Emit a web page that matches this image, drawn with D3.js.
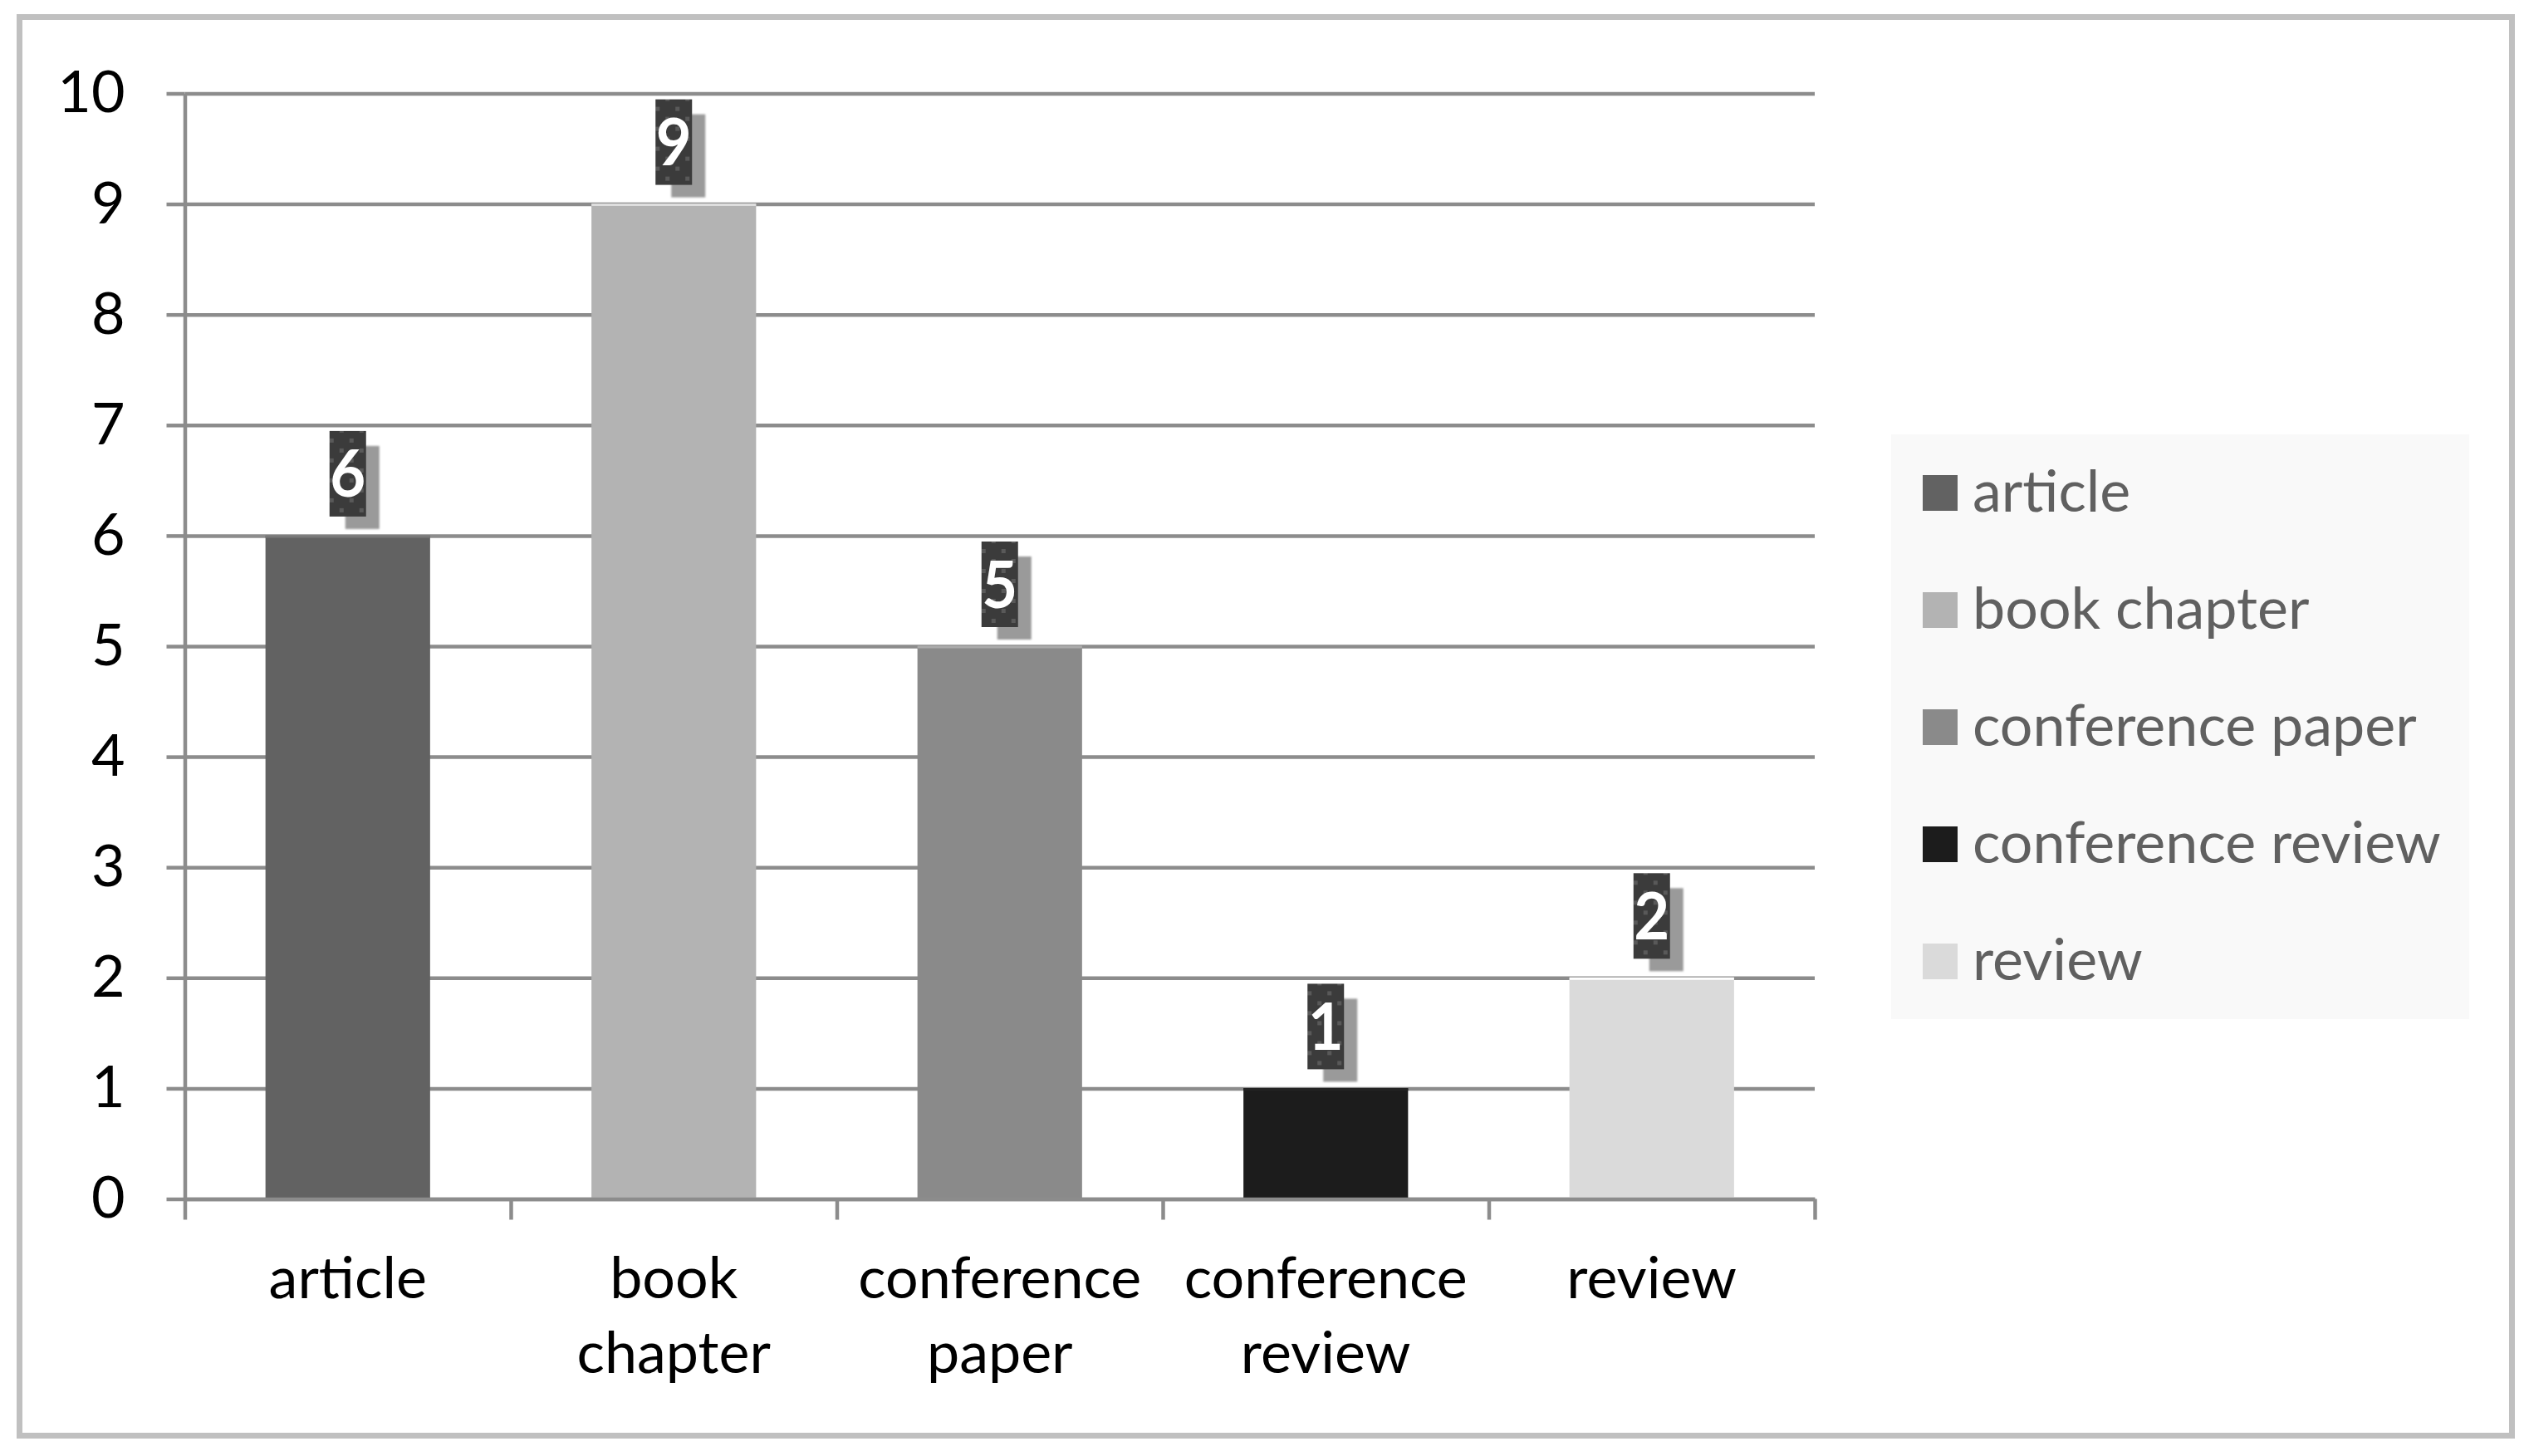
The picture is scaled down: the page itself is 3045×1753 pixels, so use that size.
<!DOCTYPE html>
<html>
<head>
<meta charset="utf-8">
<script src="https://cdn.jsdelivr.net/npm/d3@7"></script>
<style>
  body { margin: 0; background: #fff; }
  svg text { font-family: Lato, "Open Sans", sans-serif; }
</style>
</head>
<body>
<svg id="chart" width="3045" height="1753"></svg>
<script>
// chart data
const categories = ["article", "book chapter", "conference paper", "conference review", "review"];
const values = [6, 9, 5, 1, 2];
const barColors = ["#626262", "#b3b3b3", "#8a8a8a", "#1c1c1c", "#dadada"];
const xTickLabels = [["article"], ["book", "chapter"], ["conference", "paper"], ["conference", "review"], ["review"]];
const yTicks = [0, 1, 2, 3, 4, 5, 6, 7, 8, 9, 10];

const svg = d3.select("#chart");
const W = 3045, H = 1753;
const margin = {top: 112.5, right: 860, bottom: 309.5, left: 222.5};
const width = W - margin.left - margin.right;
const height = H - margin.top - margin.bottom;
const gridColor = "#8c8c8c";
const fontSize = 70;

// outer frame
svg.append("rect")
    .attr("x", 23.5).attr("y", 20.5)
    .attr("width", 3001).attr("height", 1708)
    .attr("fill", "#fff").attr("stroke", "#c0c0c0").attr("stroke-width", 7);

// dotted fill for the value labels
const defs = svg.append("defs");
const pat = defs.append("pattern").attr("id", "dots")
    .attr("patternUnits", "userSpaceOnUse").attr("width", 24).attr("height", 24);
pat.append("rect").attr("width", 24).attr("height", 24).attr("fill", "#3b3b3b");
pat.append("rect").attr("x", 2).attr("y", 2).attr("width", 5).attr("height", 5).attr("fill", "#595959");
pat.append("rect").attr("x", 14).attr("y", 14).attr("width", 5).attr("height", 5).attr("fill", "#595959");
defs.append("filter").attr("id", "soft")
    .append("feGaussianBlur").attr("stdDeviation", 0.8);

const g = svg.append("g").attr("transform", `translate(${margin.left},${margin.top})`);

// scales
const x = d3.scaleBand().domain(categories).range([0, width])
    .paddingInner(0.495).paddingOuter(0.2475);
const y = d3.scaleLinear().domain([0, 10]).range([height, 0]);
const xEdge = d3.scaleLinear().domain([0, categories.length]).range([0, width]);

// gridlines
const grid = g.append("g")
    .call(d3.axisLeft(y).tickValues(yTicks).tickSize(-width).tickFormat(""));
grid.select(".domain").remove();
grid.selectAll("line").attr("stroke", gridColor).attr("stroke-width", 4.5);

// y axis
const yAxis = g.append("g")
    .call(d3.axisLeft(y).tickValues(yTicks).tickSize(22).tickSizeOuter(0).tickPadding(50));
yAxis.select(".domain").attr("stroke", gridColor).attr("stroke-width", 4.5);
yAxis.selectAll("line").attr("stroke", gridColor).attr("stroke-width", 4.5);
yAxis.selectAll("text").attr("font-size", fontSize).attr("fill", "#000")
    .attr("font-family", "Lato, 'Open Sans', sans-serif");

// bars
const bars = g.append("g").selectAll("g").data(categories).join("g");
bars.append("rect")
    .attr("x", d => x(d))
    .attr("y", (d, i) => y(values[i]))
    .attr("width", x.bandwidth())
    .attr("height", (d, i) => height - y(values[i]))
    .attr("fill", (d, i) => barColors[i]);
bars.append("line")
    .attr("x1", d => x(d)).attr("x2", d => x(d) + x.bandwidth())
    .attr("y1", (d, i) => y(values[i]) + 1).attr("y2", (d, i) => y(values[i]) + 1)
    .attr("stroke", (d, i) => d3.color(barColors[i]).brighter(0.6))
    .attr("stroke-width", 3);

// x axis with ticks at category edges
const xAxis = g.append("g").attr("transform", `translate(0,${height})`)
    .call(d3.axisBottom(xEdge).tickValues(d3.range(categories.length + 1))
        .tickSize(25).tickSizeOuter(0).tickFormat(""));
xAxis.select(".domain").attr("stroke", gridColor).attr("stroke-width", 4.5);
xAxis.selectAll("line").attr("stroke", gridColor).attr("stroke-width", 4.5);

// category labels
g.append("g").selectAll("text").data(categories).join("text")
    .attr("x", d => x(d) + x.bandwidth() / 2)
    .attr("y", height + 119.5)
    .attr("text-anchor", "middle")
    .attr("font-size", fontSize)
    .attr("fill", "#000")
    .selectAll("tspan").data((d, i) => xTickLabels[i]).join("tspan")
    .attr("x", function() { return this.parentNode.getAttribute("x"); })
    .attr("dy", (d, j) => j === 0 ? 0 : 90)
    .text(d => d);

// value labels
const labels = g.append("g").selectAll("g").data(categories).join("g")
    .attr("transform", (d, i) => `translate(${x(d) + x.bandwidth() / 2},${y(values[i]) - 23})`);
labels.append("rect")
    .attr("x", -3).attr("y", -85).attr("width", 41).attr("height", 100)
    .attr("fill", "#9a9a9a").attr("filter", "url(#soft)");
labels.append("rect")
    .attr("x", -22).attr("y", -103).attr("width", 44).attr("height", 103)
    .attr("fill", "url(#dots)");
labels.append("text")
    .attr("y", -23.5)
    .attr("text-anchor", "middle")
    .attr("transform", "scale(0.95,1)")
    .attr("font-size", 78)
    .attr("font-weight", "bold")
    .attr("fill", "#fff")
    .text((d, i) => values[i]);

// legend
const legend = svg.append("g");
legend.append("rect")
    .attr("x", 2277).attr("y", 523).attr("width", 696).attr("height", 704)
    .attr("fill", "#f9f9f9");
const items = legend.selectAll("g.item").data(categories).join("g")
    .attr("class", "item")
    .attr("transform", (d, i) => `translate(2315,${593.5 + i * 141})`);
items.append("rect")
    .attr("y", -21.5).attr("width", 42).attr("height", 43)
    .attr("fill", (d, i) => barColors[i]);
items.append("text")
    .attr("x", 60).attr("y", 22)
    .attr("font-size", fontSize)
    .attr("fill", "#606060")
    .text(d => d);
</script>
</body>
</html>
